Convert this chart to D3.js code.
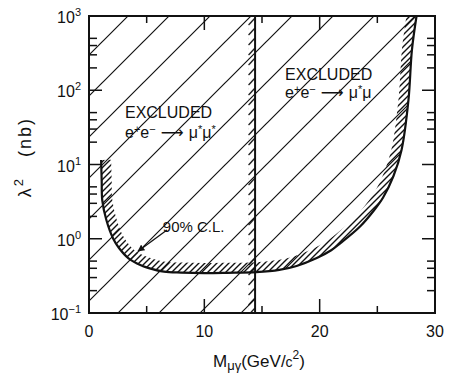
<!DOCTYPE html>
<html>
<head>
<meta charset="utf-8">
<script src="https://cdn.jsdelivr.net/npm/d3@7"></script>
<style>
  body { margin: 0; background: #fff; }
  svg { display: block; }
  text { font-family: "Liberation Sans", Arial, sans-serif; fill: #111; }
</style>
</head>
<body>
<svg id="chart" width="449" height="378"></svg>
<script>
// Mass limit from e+e- -> mu* mu* (GeV/c^2)
const massLimit = 14.4;
// 90% C.L. upper limit on the cross section for e+e- -> mu* mu
const clMass  = [1.05, 1.1, 1.15, 1.5, 2.1, 2.6, 3.4, 4.5, 5.5, 6.5, 8, 10, 12, 14.5,
                 16.5, 18, 19.75, 21, 21.8, 23.5, 24.7, 25.5, 26.4, 27.1, 27.7, 28.0, 28.4];
const clSigma = [11.5, 6, 3.3, 1.8, 1.0, 0.75, 0.55, 0.44, 0.39, 0.36, 0.35, 0.345, 0.348, 0.355,
                 0.38, 0.43, 0.55, 0.7, 0.87, 1.46, 2.4, 3.6, 7, 15.7, 74, 350, 1000];
// Axes
const xLabelTicks = [0, 10, 20, 30];
const xMajorTicks = [10, 20];
const xMinorTicks = [5, 15, 25];
const yDecades = [-1, 0, 1, 2, 3];
const yMinorSteps = [2, 3, 4, 5];
// Annotations (data coordinates)
const clLabel = { text: "90% C.L.", m: 6.4, s: 1.23 };
const clArrow = { m0: 6.76, s0: 1.31, m1: 4.25, s1: 0.68 };
const pairBlock = { m: 3.12, s1: 42, s2: 22.7 };
const singleBlock = { m: 17.0, s1: 137, s2: 78 };

const svg = d3.select("#chart");
const pL = 89, pR = 435, pT = 16, pB = 313;
const x = d3.scaleLinear().domain([0, 30]).range([pL, pR]);
const y = d3.scaleLog().domain([0.1, 1000]).range([pB, pT]);
const ink = "#111";

const defs = svg.append("defs");
function hatch(id, size, phase, width) {
  const p = defs.append("pattern").attr("id", id)
    .attr("patternUnits", "userSpaceOnUse")
    .attr("width", size).attr("height", size)
    .attr("x", phase).attr("y", 0);
  p.append("path")
    .attr("d", `M0,${size}L${size},0M-2,2L2,-2M${size - 2},${size + 2}L${size + 2},${size - 2}`)
    .attr("stroke", ink).attr("stroke-width", width).attr("fill", "none");
}
hatch("wideHatch", 41, 21, 1.2);
hatch("bandHatch", 6, 0, 1.4);

// short slashes along the excluded side of the mass limit
const edgeW = 7, edgeStep = 10;
const edgePat = defs.append("pattern").attr("id", "edgeHatch")
  .attr("patternUnits", "userSpaceOnUse")
  .attr("width", edgeW).attr("height", edgeStep)
  .attr("x", x(massLimit) - edgeW).attr("y", pT);
edgePat.append("path").attr("d", `M0.5,${edgeStep - 1}L${edgeW},2`)
  .attr("stroke", ink).attr("stroke-width", 1.3).attr("fill", "none");

const curvePts = clMass.map((m, i) => [x(m), y(clSigma[i])]);
const line = d3.line().curve(d3.curveCatmullRom.alpha(0.5));
const curveD = line(curvePts);
const first = curvePts[0], last = curvePts[curvePts.length - 1];
const regionD = curveD + `L${last[0]},${pT - 40}L${first[0]},${pT - 40}Z`;

defs.append("clipPath").attr("id", "frameClip").append("rect")
  .attr("x", pL).attr("y", pT).attr("width", pR - pL).attr("height", pB - pT);
const excl = defs.append("clipPath").attr("id", "exclClip");
excl.append("rect").attr("x", pL).attr("y", pT)
  .attr("width", x(massLimit) - pL).attr("height", pB - pT);
excl.append("path").attr("d", regionD);
defs.append("clipPath").attr("id", "uClip").append("path").attr("d", regionD);
const mask = defs.append("mask").attr("id", "bandMask")
  .attr("maskUnits", "userSpaceOnUse").attr("x", 0).attr("y", 0)
  .attr("width", 449).attr("height", 378);
mask.append("rect").attr("width", 449).attr("height", 378).attr("fill", "black");
mask.append("path").attr("d", curveD).attr("fill", "none")
  .attr("stroke", "white").attr("stroke-width", 20);

defs.append("marker").attr("id", "arrowHead")
  .attr("viewBox", "0 0 10 10").attr("refX", 9).attr("refY", 5)
  .attr("markerWidth", 7).attr("markerHeight", 7).attr("orient", "auto")
  .attr("markerUnits", "userSpaceOnUse")
  .append("path").attr("d", "M0,0L10,5L0,10Z").attr("fill", ink);

svg.append("rect").attr("width", 449).attr("height", 378).attr("fill", "#fff");

const plot = svg.append("g").attr("clip-path", "url(#frameClip)");
// excluded regions, wide hatching
plot.append("g").attr("clip-path", "url(#exclClip)")
  .append("rect").attr("x", pL).attr("y", pT)
  .attr("width", pR - pL).attr("height", pB - pT)
  .attr("fill", "url(#wideHatch)");
// dense hatching along the inner side of the C.L. curve
plot.append("g").attr("clip-path", "url(#uClip)")
  .append("rect").attr("x", pL).attr("y", pT)
  .attr("width", pR - pL).attr("height", pB - pT)
  .attr("fill", "url(#bandHatch)").attr("mask", "url(#bandMask)");
plot.append("rect").attr("x", x(massLimit) - edgeW).attr("y", pT)
  .attr("width", edgeW).attr("height", pB - pT)
  .attr("fill", "url(#edgeHatch)");

plot.append("path").attr("d", curveD).attr("fill", "none")
  .attr("stroke", ink).attr("stroke-width", 2.2);
plot.append("line")
  .attr("x1", x(massLimit)).attr("x2", x(massLimit))
  .attr("y1", pT).attr("y2", pB)
  .attr("stroke", ink).attr("stroke-width", 2);

// ticks, all pointing inward
const tickG = svg.append("g").attr("stroke", ink).attr("stroke-width", 1.5);
function xTicks(values, len) {
  values.forEach(v => {
    tickG.append("line").attr("x1", x(v)).attr("x2", x(v)).attr("y1", pB).attr("y2", pB - len);
    tickG.append("line").attr("x1", x(v)).attr("x2", x(v)).attr("y1", pT).attr("y2", pT + len);
  });
}
xTicks(xMajorTicks, 14);
xTicks(xMinorTicks, 7);
function yTicks(values, len) {
  values.forEach(v => {
    tickG.append("line").attr("x1", pL).attr("x2", pL + len).attr("y1", y(v)).attr("y2", y(v));
    tickG.append("line").attr("x1", pR).attr("x2", pR - len).attr("y1", y(v)).attr("y2", y(v));
  });
}
yTicks(yDecades.slice(1, -1).map(d => Math.pow(10, d)), 13);
yTicks(yDecades.slice(0, -1).flatMap(d => yMinorSteps.map(k => k * Math.pow(10, d))), 8);

svg.append("rect").attr("x", pL).attr("y", pT)
  .attr("width", pR - pL).attr("height", pB - pT)
  .attr("fill", "none").attr("stroke", ink).attr("stroke-width", 2);

// tick labels
svg.append("g").selectAll("text").data(xLabelTicks).join("text")
  .attr("x", d => x(d)).attr("y", pB + 24)
  .attr("text-anchor", "middle").attr("font-size", 16).text(d => d);

const yl = svg.append("g").selectAll("text").data(yDecades).join("text")
  .attr("x", 81).attr("y", d => y(Math.pow(10, d)) + 7)
  .attr("text-anchor", "end").attr("font-size", 16);
yl.append("tspan").text("10");
yl.append("tspan").attr("font-size", 11).attr("dy", -7)
  .text(d => d < 0 ? "\u2212" + (-d) : d);

// axis titles
const xt = svg.append("text").attr("x", 259).attr("y", 367)
  .attr("text-anchor", "middle").attr("font-size", 17);
xt.append("tspan").text("M");
xt.append("tspan").attr("font-size", 13).attr("dy", 3).text("\u03BC\u03B3");
xt.append("tspan").attr("dy", -3).text("(GeV/");
xt.append("tspan").attr("font-size", 14).text("c");
xt.append("tspan").attr("font-size", 12).attr("dy", -8).text("2");
xt.append("tspan").attr("dy", 8).text(")");

const ytl = svg.append("text").attr("transform", "translate(31,157) rotate(-90)")
  .attr("text-anchor", "middle").attr("font-size", 18).attr("letter-spacing", 2);
ytl.append("tspan").text("\u03BB");
ytl.append("tspan").attr("font-size", 13).attr("dy", -8).text("2");
ytl.append("tspan").attr("dy", 8).text("\u2003(nb)");

// region labels
function block(b, second) {
  svg.append("text").attr("x", x(b.m)).attr("y", y(b.s1))
    .attr("font-size", 16).text("EXCLUDED");
  const t = svg.append("text").attr("x", x(b.m)).attr("y", y(b.s2)).attr("font-size", 16);
  t.append("tspan").text("e");
  t.append("tspan").attr("font-size", 11).attr("dy", -5).text("+");
  t.append("tspan").attr("dy", 5).text("e");
  t.append("tspan").attr("font-size", 11).attr("dy", -5).text("\u2212");
  t.append("tspan").attr("dy", 5).attr("font-family", "DejaVu Sans").text(" \u27F6 ");
  t.append("tspan").text("\u03BC");
  t.append("tspan").attr("font-size", 11).attr("dy", -5).text("*");
  t.append("tspan").attr("dy", 5).text("\u03BC");
  if (second) t.append("tspan").attr("font-size", 11).attr("dy", -5).text("*");
}
block(pairBlock, true);
block(singleBlock, false);

svg.append("text").attr("x", x(clLabel.m)).attr("y", y(clLabel.s))
  .attr("font-size", 15).text(clLabel.text);
svg.append("line")
  .attr("x1", x(clArrow.m0)).attr("y1", y(clArrow.s0))
  .attr("x2", x(clArrow.m1)).attr("y2", y(clArrow.s1))
  .attr("stroke", ink).attr("stroke-width", 1.3)
  .attr("marker-end", "url(#arrowHead)");
</script>
</body>
</html>
